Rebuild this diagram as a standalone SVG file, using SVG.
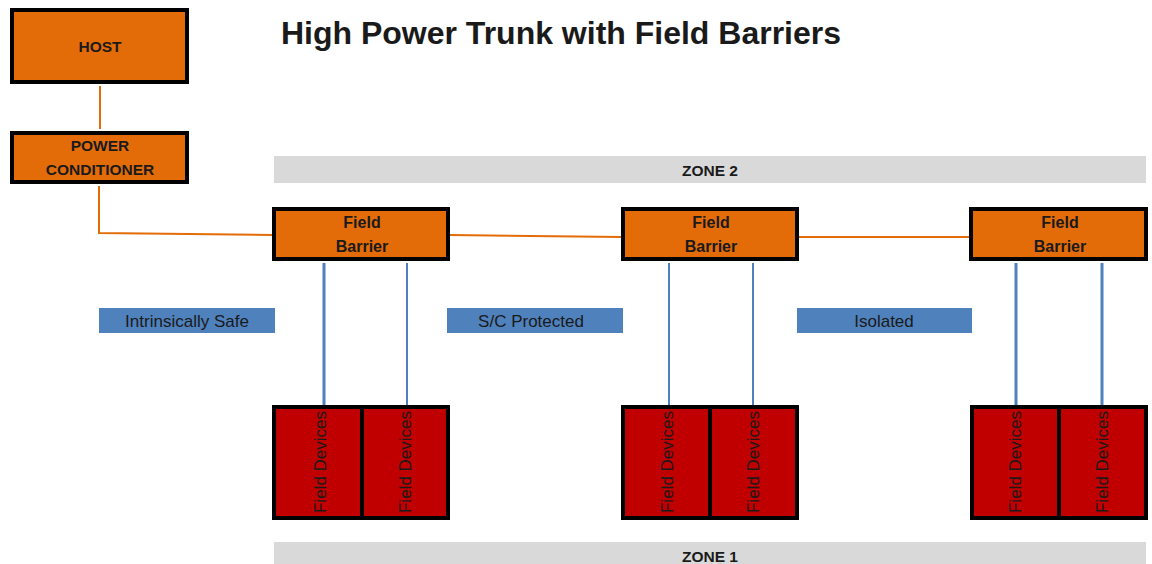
<svg xmlns="http://www.w3.org/2000/svg" width="1152" height="564" viewBox="0 0 1152 564">
<style>
text{font-family:"Liberation Sans",Arial,sans-serif;fill:#1a1a1a;text-anchor:middle;dominant-baseline:central}
.box{fill:#E36C09;stroke:#000;stroke-width:4}
.dev{fill:#C00000;stroke:#000;stroke-width:4}
.zone{fill:#D9D9D9}
.lab{fill:#4F81BD}
.or{stroke:#E36C09;stroke-width:2;fill:none}
.bl{stroke:#4F81BD;stroke-width:3;fill:none}
.blt{stroke:#4F81BD;stroke-width:2;fill:none}
.b{font-weight:bold;font-size:15.5px}
.fb{font-size:16px;font-weight:bold}
.lt{font-size:17px}
.fd{font-size:17px}
</style>
<rect width="1152" height="564" fill="#fff"/>
<text x="561" y="33" style="font-size:32px;font-weight:bold">High Power Trunk with Field Barriers</text>
<g id="zone2"><rect class="zone" x="274" y="156" width="872" height="27"/><text class="b" x="710" y="170">ZONE 2</text></g>
<g id="zone1"><rect class="zone" x="274" y="542" width="872" height="22"/><text class="b" x="710" y="556">ZONE 1</text></g>
<g id="connectors">
<line class="or" x1="100" y1="86" x2="100" y2="129"/>
<polyline class="or" points="99,186 99,233 272,235"/>
<line class="or" x1="450" y1="235" x2="621" y2="237"/>
<line class="or" x1="799" y1="237" x2="969" y2="237"/>
<line class="bl" x1="324" y1="263" x2="324" y2="405"/>
<line class="blt" x1="407" y1="263" x2="407" y2="405"/>
<line class="blt" x1="669" y1="263" x2="669" y2="405"/>
<line class="blt" x1="753" y1="263" x2="753" y2="405"/>
<line class="bl" x1="1016" y1="263" x2="1016" y2="405"/>
<line class="bl" x1="1102" y1="263" x2="1102" y2="405"/>
</g>
<g id="host"><rect class="box" x="12" y="10" width="175" height="72"/><text class="b" x="100" y="46">HOST</text></g>
<g id="powercond"><rect class="box" x="12" y="133" width="175" height="49"/><text class="b" x="100" y="145">POWER</text><text class="b" x="100" y="169">CONDITIONER</text></g>
<g id="fb1"><rect class="box" x="274" y="209" width="174" height="50"/><text class="fb" x="362" y="222">Field</text><text class="fb" x="362" y="246">Barrier</text></g>
<g id="fb2"><rect class="box" x="623" y="209" width="174" height="50"/><text class="fb" x="711" y="222">Field</text><text class="fb" x="711" y="246">Barrier</text></g>
<g id="fb3"><rect class="box" x="971" y="209" width="175" height="50"/><text class="fb" x="1060" y="222">Field</text><text class="fb" x="1060" y="246">Barrier</text></g>
<g id="lab1"><rect class="lab" x="99" y="308" width="176" height="25"/><text class="lt" x="187" y="321">Intrinsically Safe</text></g>
<g id="lab2"><rect class="lab" x="447" y="308" width="176" height="25"/><text class="lt" x="531" y="321">S/C Protected</text></g>
<g id="lab3"><rect class="lab" x="797" y="308" width="175" height="25"/><text class="lt" x="884" y="321">Isolated</text></g>
<g id="dev1"><rect class="dev" x="274" y="407" width="88" height="111"/><rect class="dev" x="362" y="407" width="86" height="111"/>
<text class="fd" transform="translate(320,462) rotate(-90)">Field Devices</text><text class="fd" transform="translate(405,462) rotate(-90)">Field Devices</text></g>
<g id="dev2"><rect class="dev" x="623" y="407" width="87" height="111"/><rect class="dev" x="710" y="407" width="87" height="111"/>
<text class="fd" transform="translate(667,462) rotate(-90)">Field Devices</text><text class="fd" transform="translate(753,462) rotate(-90)">Field Devices</text></g>
<g id="dev3"><rect class="dev" x="972" y="407" width="87" height="111"/><rect class="dev" x="1059" y="407" width="87" height="111"/>
<text class="fd" transform="translate(1015,462) rotate(-90)">Field Devices</text><text class="fd" transform="translate(1102,462) rotate(-90)">Field Devices</text></g>
</svg>
